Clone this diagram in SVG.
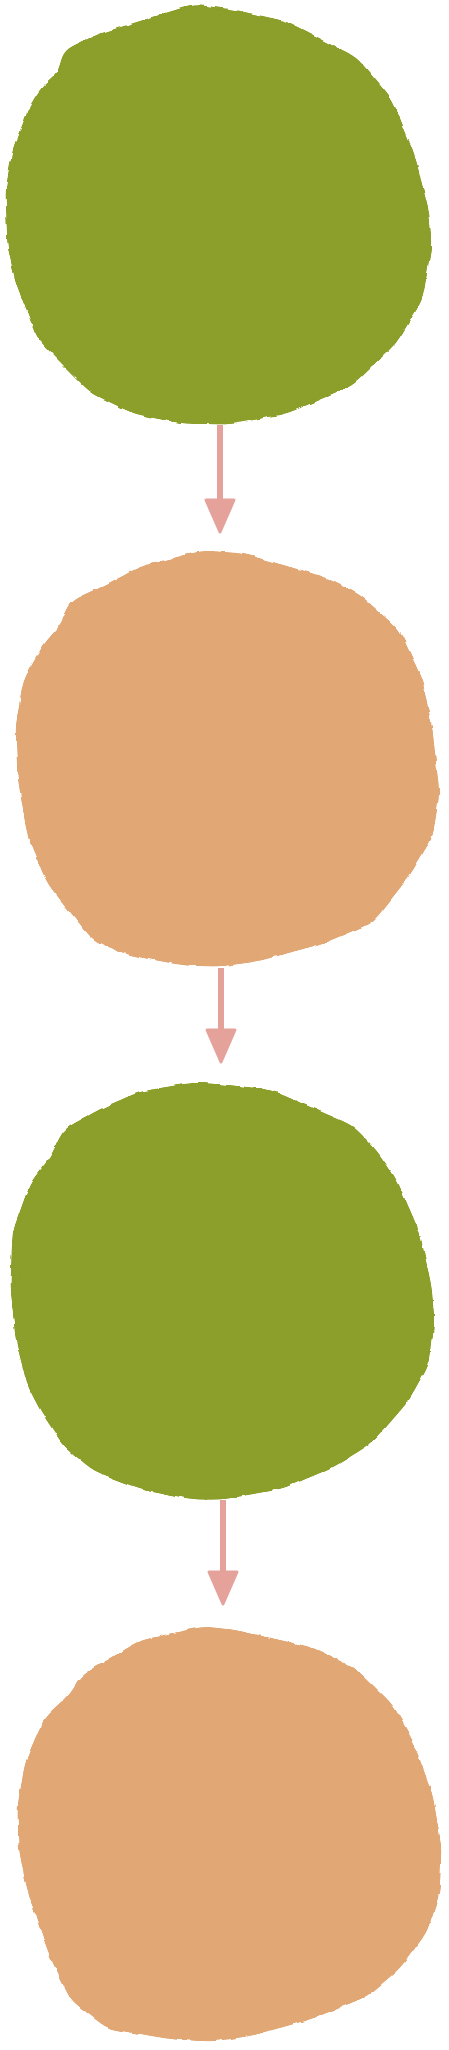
<svg xmlns="http://www.w3.org/2000/svg" width="449" height="2050" viewBox="0 0 449 2050">
<style>
.green{fill:#8B9F2C}
.orange{fill:#E1A774}
.blob{filter:url(#soft)}
.conn{stroke:#E5A29B;stroke-width:6;fill:none;stroke-linecap:butt}
</style>
<defs>
<filter id="soft" x="-5%" y="-5%" width="110%" height="110%">
<feGaussianBlur in="SourceGraphic" stdDeviation="7" result="b"/>
<feColorMatrix in="b" type="matrix" values="1 0 0 0 0  0 1 0 0 0  0 0 1 0 0  0 0 0 24 -12" result="g"/>
<feTurbulence type="fractalNoise" baseFrequency="0.08" numOctaves="2" seed="3" result="n"/>
<feDisplacementMap in="g" in2="n" scale="4" xChannelSelector="R" yChannelSelector="G"/>
</filter>
<marker id="arr" viewBox="0 0 36 32" refX="1" refY="16" markerWidth="36" markerHeight="32" markerUnits="userSpaceOnUse" orient="auto">
<path d="M2,2 L34,16 L2,30 Z" fill="#E5A29B" stroke="#E5A29B" stroke-width="3" stroke-linejoin="round"/>
</marker>
</defs>
<rect width="449" height="2050" fill="#FFFFFF"/>
<g id="node1" class="blob">
<polygon class="green" points="193,4 233,9 287,21 357,57 393,100 415,154 430,214 432,246 423,300 397,343 353,386 287,414 230,425 182,424 133,414 90,393 37,339 15,282 7,246 5,189 12,150 30,104 43,84 57,75 63,50 97,34"/>
</g>
<g id="node2" class="blob">
<polygon class="orange" points="203,550 243,553 323,576 360,594 400,630 423,680 433,730 440,794 433,837 410,876 373,923 323,944 257,962 220,967 183,966 127,955 93,941 47,884 27,837 17,776 15,726 23,680 43,644 60,625 70,601 107,584 140,566"/>
</g>
<g id="node3" class="blob">
<polygon class="green" points="193,1082 223,1084 270,1089 353,1125 377,1150 397,1179 420,1232 432,1286 435,1321 430,1364 410,1400 373,1443 333,1468 283,1489 223,1500 193,1500 140,1489 93,1471 63,1446 40,1411 27,1386 15,1339 10,1286 12,1232 30,1182 50,1157 63,1129 103,1107 140,1091"/>
</g>
<g id="node4" class="blob">
<polygon class="orange" points="203,1626 233,1629 313,1647 357,1669 393,1704 413,1740 433,1794 442,1847 440,1894 427,1933 400,1969 367,1997 313,2019 253,2036 213,2042 173,2040 107,2029 70,2000 50,1958 37,1922 25,1883 18,1847 17,1804 25,1761 43,1719 70,1694 80,1676 110,1658 140,1640"/>
</g>
<g id="connectors">
<line class="conn" x1="220" y1="425" x2="220" y2="499" marker-end="url(#arr)"/>
<line class="conn" x1="221" y1="968" x2="221" y2="1029" marker-end="url(#arr)"/>
<line class="conn" x1="223" y1="1500" x2="223" y2="1571" marker-end="url(#arr)"/>
</g>
</svg>
